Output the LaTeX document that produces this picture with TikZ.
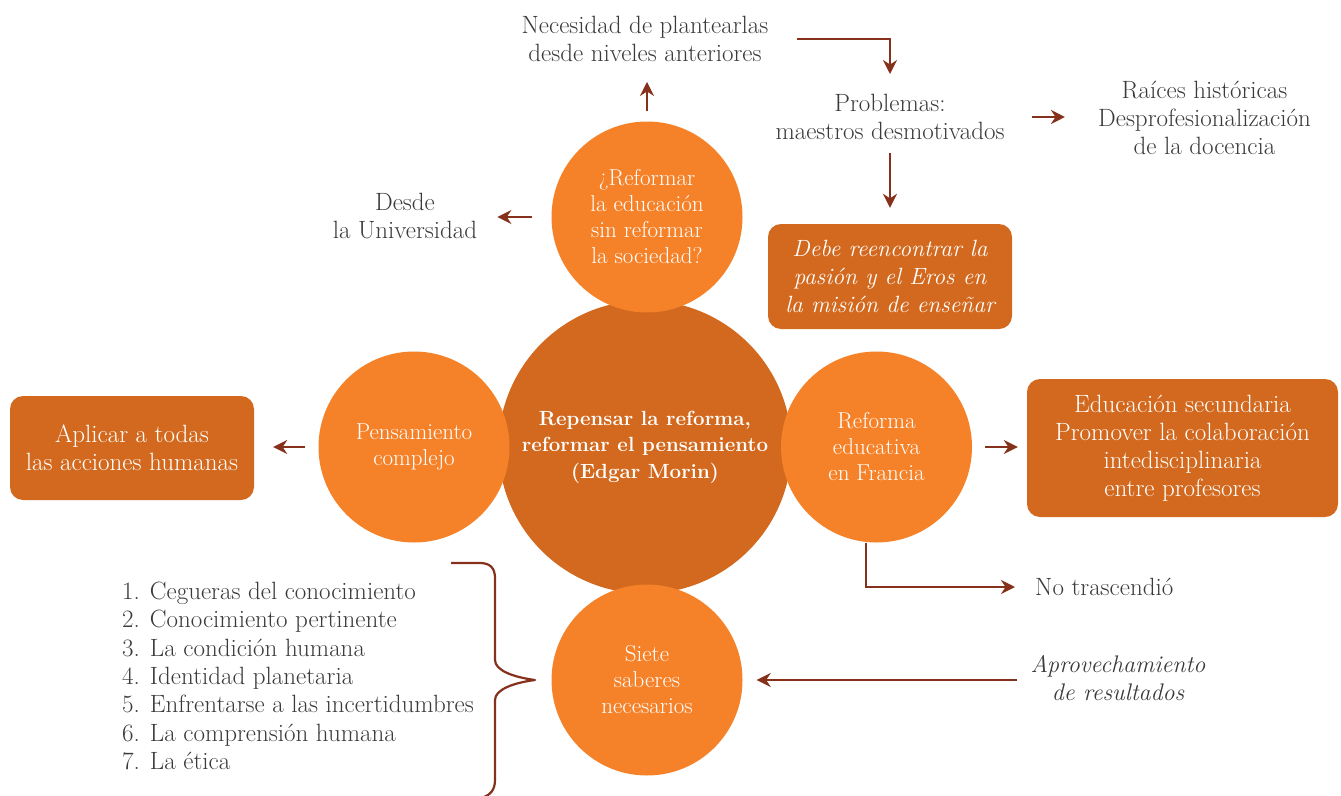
\documentclass[tikz,border=0pt]{standalone}
\usepackage{fontspec}
\usetikzlibrary{arrows.meta}
\definecolor{lightor}{HTML}{F58229}
\definecolor{darkor}{HTML}{D2691E}
\definecolor{arrowc}{HTML}{85311B}
\definecolor{textgray}{HTML}{3A3A3A}
\tikzset{
  txt/.style={text=textgray, align=center, inner sep=0pt, font=\fontsize{25}{28}\selectfont},
  ctxt/.style={text=white, align=center, inner sep=0pt, font=\fontsize{23}{26}\selectfont},
  smallc/.style={circle, fill=lightor, minimum size=191pt, inner sep=0pt, ctxt},
  bigc/.style={circle, fill=darkor, minimum size=293pt, inner sep=0pt, text=white, align=center, font=\bfseries\fontsize{20.5}{26.5}\selectfont},
  obox/.style={rounded corners=13pt, fill=darkor, inner sep=0pt, text=white, align=center, font=\fontsize{25}{28}\selectfont},
  arr/.style={draw=arrowc, line width=2.8pt, -{Stealth[length=14pt,width=14pt]}},
}
\begin{document}
\begin{tikzpicture}[x=1pt,y=-1pt]
\useasboundingbox (0,0) rectangle (1341,795);
% circles
\node[bigc] (c) at (645,447) {Repensar la reforma,\\reformar el pensamiento\\(Edgar Morin)};
\node[smallc] (top) at (647,217) {¿Reformar\\la educación\\sin reformar\\la sociedad?};
\node[smallc] (left) at (414,447) {Pensamiento\\complejo};
\node[smallc] (right) at (876.5,447) {Reforma\\educativa\\en Francia};
\node[smallc] (bot) at (647,680) {Siete\\saberes\\necesarios};
% boxes
\node[obox, minimum width=244pt, minimum height=105pt, font=\itshape\fontsize{23.5}{28}\selectfont] (debe) at (890,276.5) {Debe reencontrar la\\pasión y el Eros en\\la misión de enseñar};
\node[obox, minimum width=244pt, minimum height=104pt] (apl) at (132,448) {Aplicar a todas\\las acciones humanas};
\node[obox, minimum width=311pt, minimum height=138pt] (edu) at (1182.5,448) {Educación secundaria\\Promover la colaboración\\intedisciplinaria\\entre profesores};
% texts
\node[txt] (nec) at (645,39) {Necesidad de plantearlas\\desde niveles anteriores};
\node[txt] (prob) at (890,117) {Problemas:\\maestros desmotivados};
\node[txt] (rai) at (1204.5,117.5) {Raíces históricas\\Desprofesionalización\\de la docencia};
\node[txt] (desde) at (405,216) {Desde\\la Universidad};
\node[txt, anchor=west] (notr) at (1035,587) {No trascendió};
\node[txt, font=\itshape\fontsize{24}{28}\selectfont] (aprov) at (1118,678) {Aprovechamiento\\de resultados};
\node[txt, anchor=west, align=left, font=\fontsize{25}{28.3}\selectfont] (list) at (122,676) {1. Cegueras del conocimiento\\2. Conocimiento pertinente\\3. La condición humana\\4. Identidad planetaria\\5. Enfrentarse a las incertidumbres\\6. La comprensión humana\\7. La ética};
% arrows
\draw[arr, shorten <=10pt, shorten >=20pt] (top.north) -- (top.north |- nec.south);
\draw[arr, shorten <=28pt, shorten >=20pt] (nec.east) -| (prob.north);
\draw[arr, shorten <=13pt, shorten >=16pt] (prob.south -| debe.north) -- (debe.north);
\draw[arr, shorten <=27pt, shorten >=33pt] (prob.east) -- (prob.east -| rai.west);
\draw[arr, shorten <=19pt, shorten >=20pt] (top.west) -- (top.west -| desde.east);
\draw[arr, shorten <=13pt, shorten >=19pt] (left.west) -- (left.west -| apl.east);
\draw[arr, shorten <=13pt, shorten >=9pt] (right.east) -- (right.east -| edu.west);
\draw[arr, shorten >=20pt] ([xshift=-10.5pt]right.south) |- (notr.west);
\draw[arr, shorten <=13pt, shorten >=14pt] (bot.east -| aprov.west) -- (bot.east);
% brace
\draw[arrowc, line width=2.2pt, line join=round] (451,563) -- (480,563)
  .. controls (490,563) and (495,568) .. (495,578)
  -- (495,660)
  .. controls (495,670) and (512,677) .. (535,680)
  .. controls (512,683) and (495,690) .. (495,700)
  -- (495,780)
  .. controls (495,790) and (490,795) .. (484,797);
\end{tikzpicture}
\end{document}
